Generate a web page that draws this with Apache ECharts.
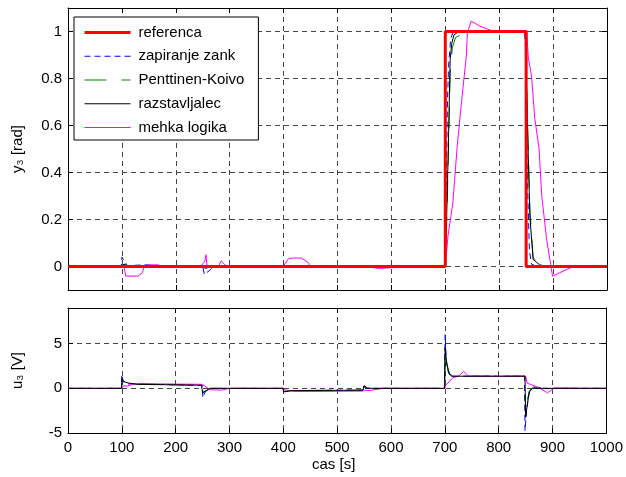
<!DOCTYPE html>
<html>
<head>
<meta charset="utf-8">
<script src="https://cdn.jsdelivr.net/npm/echarts@6/dist/echarts.min.js"></script>
<style>
  html, body { margin: 0; padding: 0; background: #fff; }
  #main { width: 626px; height: 477px; }
</style>
</head>
<body>
<div id="main"></div>
<script>
// podatki odčitani s slike
var xTicks = [0, 100, 200, 300, 400, 500, 600, 700, 800, 900, 1000];

// zgornji graf: y3 [rad]
var refT = [0, 700, 700, 850, 850, 1000];
var refY = [0, 0, 1, 1, 0, 0];

var zzT = [0, 99, 100, 105, 110, 145, 152, 160, 250, 253, 263, 270, 400, 405, 410, 700, 701.5, 704, 706, 710, 715, 848, 849.5, 852, 856, 860, 870, 1000];
var zzY = [0, 0, 0.04, 0.022, 0.004, 0.007, 0.006, 0, 0, -0.034, -0.016, 0, 0, 0.004, 0, 0, 0.3, 0.7, 0.85, 0.97, 1.0, 1.0, 0.8, 0.4, 0.07, 0.01, 0, 0];

var pkT = [0, 100, 104, 112, 250, 255, 265, 700, 703, 706, 709, 713, 719, 733, 760, 848, 850, 853, 857, 863, 875, 890, 920, 1000];
var pkY = [0, 0, 0.01, 0, 0, -0.008, 0, 0, 0.22, 0.5, 0.82, 0.93, 0.975, 0.99, 1.0, 1.0, 0.87, 0.58, 0.24, 0.035, 0.015, 0.005, 0, 0];

var rzT = [0, 100, 104, 112, 250, 255, 265, 700, 703, 706, 709, 712, 716, 725, 848, 850, 853, 857, 863, 875, 890, 1000];
var rzY = [0, 0, 0.01, 0, 0, -0.008, 0, 0, 0.25, 0.55, 0.88, 0.95, 0.985, 1.0, 1.0, 0.85, 0.55, 0.21, 0.03, 0.007, 0, 0];

var mlT = [0, 104, 107, 130, 138, 141, 152, 167, 175, 246, 254, 256, 258, 280, 284, 291, 297, 399, 409, 418, 433, 446, 449, 555, 575, 597, 610, 700, 705, 714, 722, 731, 739, 741, 748, 764, 783, 795, 851, 854, 860, 866, 874, 879, 888, 894, 899, 937, 1000];
var mlY = [0, 0, -0.041, -0.041, -0.027, 0, 0.007, 0.007, 0, 0, 0.023, 0.05, 0.004, 0.003, 0.024, 0.008, 0, 0, 0.033, 0.036, 0.036, 0.016, 0, 0, -0.008, -0.006, 0, 0, 0.13, 0.27, 0.51, 0.72, 0.895, 0.995, 1.044, 1.023, 1.006, 1.0, 1.0, 0.89, 0.81, 0.63, 0.5, 0.3, 0.115, 0.03, -0.041, 0, 0];

// spodnji graf: u3 [V]
var uzzT = [0, 99.5, 100, 103, 110, 249.5, 250.5, 254, 260, 270, 399.5, 400.5, 410, 548, 549, 555, 699.5, 700.5, 703, 707, 711, 848, 849, 852, 857, 865, 880, 1000];
var uzzY = [0, 0, 1.55, 0.7, 0.5, 0.35, -1.05, -0.5, -0.1, 0, 0, -0.5, -0.25, -0.2, 0.2, 0, 0, 6.0, 3.0, 1.7, 1.36, 1.36, -4.75, -2.4, -0.3, 0.05, 0, 0];

var upkT = [0, 99.5, 100.5, 106, 130, 249.5, 251, 256, 264, 399.5, 401, 415, 548, 550, 557, 566, 699.5, 700.5, 704, 709, 715, 849, 850, 853, 858, 865, 880, 895, 1000];
var upkY = [0, 0, 0.9, 0.65, 0.45, 0.35, -0.45, -0.25, 0, 0, -0.35, -0.25, -0.2, 0.25, 0.05, 0, 0, 4.3, 2.7, 1.6, 1.36, 1.36, -3.0, -1.3, -0.2, 0.15, 0.1, 0, 0];

var urzT = [0, 99.5, 100, 104, 112, 130, 248, 250, 256, 264, 400, 401, 415, 548, 550, 556, 565, 699.5, 700.5, 703, 707, 712, 849, 850, 854, 857, 863, 1000];
var urzY = [0, 0, 1.07, 0.75, 0.6, 0.45, 0.35, -0.5, -0.3, 0, 0, -0.4, -0.25, -0.2, 0.3, 0.05, 0, 0, 4.56, 2.9, 1.8, 1.36, 1.36, -3.23, -1.5, -0.4, 0, 0];

var umlT = [0, 100, 103, 110, 120, 135, 170, 250, 258, 265, 285, 300, 400, 405, 420, 450, 548, 552, 560, 585, 700, 702, 706, 715, 725, 735, 744, 850, 853, 870, 891, 903, 1000];
var umlY = [0, 0, 0.3, 0.25, 0.45, 0.55, 0.5, 0.45, 0.1, -0.15, -0.2, 0, 0, -0.2, -0.35, -0.35, -0.3, -0.2, -0.25, 0, 0, 0.4, 0.6, 1.2, 1.35, 1.9, 1.36, 1.36, 0.58, 0.2, -0.5, 0.03, 0];

function zip(t, y) {
  return t.map(function (v, i) { return [v, y[i]]; });
}

var myChart = echarts.init(document.getElementById('main'));

var fontFam = '"Liberation Sans", Arial, sans-serif';
var gridLine = { show: true, lineStyle: { color: '#444', width: 1, type: [5, 4] } };
var blackLine = { show: true, onZero: false, lineStyle: { color: '#000', width: 1 } };
var tickIn = { show: true, inside: true, length: 5, lineStyle: { color: '#000' } };
var lbl = { color: '#000', fontSize: 15, fontFamily: fontFam };

function xAx(grid, pos, labels) {
  return {
    type: 'value', gridIndex: grid, position: pos, min: 0, max: 1000, interval: 100,
    axisLine: blackLine, axisTick: tickIn,
    splitLine: pos === 'bottom' ? gridLine : { show: false },
    axisLabel: labels ? Object.assign({ margin: 7, formatter: function (v) { return String(v); } }, lbl) : { show: false }
  };
}

var option = {
  animation: false,
  backgroundColor: '#fff',
  grid: [
    { left: 68, top: 8, width: 539, height: 282 },
    { left: 68, top: 308, width: 539, height: 125 }
  ],
  legend: {
    left: 74, top: 17,
    orient: 'vertical',
    backgroundColor: '#fff',
    borderColor: '#000',
    borderWidth: 1,
    borderRadius: 0,
    padding: [8, 14, 5, 9],
    itemWidth: 46,
    itemHeight: 14,
    itemGap: 8.75,
    itemStyle: { opacity: 0 },
    textStyle: { color: '#000', fontSize: 15, fontFamily: fontFam, padding: [0, 0, 0, 3] },
    data: [
      { name: 'referenca', lineStyle: { width: 3 } },
      { name: 'zapiranje zank', lineStyle: { width: 1 } },
      { name: 'Penttinen-Koivo', lineStyle: { width: 1 } },
      { name: 'razstavljalec', lineStyle: { width: 1 } },
      { name: 'mehka logika', lineStyle: { width: 1 } }
    ]
  },
  xAxis: [
    xAx(0, 'bottom', false),
    xAx(1, 'bottom', true),
    xAx(0, 'top', false),
    xAx(1, 'top', false)
  ],
  yAxis: [
    {
      type: 'value', gridIndex: 0, min: -0.1, max: 1.1, splitNumber: 6,
      axisLine: blackLine, axisTick: tickIn, splitLine: gridLine,
      axisLabel: Object.assign({ margin: 6, showMinLabel: false, showMaxLabel: false }, lbl),
      name: 'y\u2083 [rad]', nameLocation: 'middle', nameGap: 43,
      nameTextStyle: { color: '#000', fontSize: 15, fontFamily: fontFam }
    },
    {
      type: 'value', gridIndex: 1, min: -5, max: 9, interval: 5,
      axisLine: blackLine, axisTick: tickIn, splitLine: gridLine,
      axisLabel: Object.assign({ margin: 6, showMaxLabel: false }, lbl),
      name: 'u\u2083 [V]', nameLocation: 'middle', nameGap: 43,
      nameTextStyle: { color: '#000', fontSize: 15, fontFamily: fontFam }
    },
    {
      type: 'value', gridIndex: 0, position: 'right', min: -0.1, max: 1.1, splitNumber: 6,
      axisLine: blackLine, axisTick: tickIn, splitLine: { show: false }, axisLabel: { show: false }
    },
    {
      type: 'value', gridIndex: 1, position: 'right', min: -5, max: 9, interval: 5,
      axisLine: blackLine, axisTick: tickIn, splitLine: { show: false }, axisLabel: { show: false }
    }
  ],
  graphic: [{
    type: 'text', left: 312, top: 457,
    style: { text: 'cas [s]', fill: '#000', font: '15px ' + fontFam }
  }],
  series: [
    { name: 'zapiranje zank', type: 'line', xAxisIndex: 0, yAxisIndex: 0, symbol: 'none', z: 3,
      color: '#0000ff', lineStyle: { width: 1, type: [6, 4] }, data: zip(zzT, zzY) },
    { name: 'Penttinen-Koivo', type: 'line', xAxisIndex: 0, yAxisIndex: 0, symbol: 'none', z: 3,
      color: '#008000', lineStyle: { width: 1, type: [22, 15] }, data: zip(pkT, pkY) },
    { name: 'razstavljalec', type: 'line', xAxisIndex: 0, yAxisIndex: 0, symbol: 'none', z: 3,
      color: '#000000', lineStyle: { width: 1 }, data: zip(rzT, rzY) },
    { name: 'mehka logika', type: 'line', xAxisIndex: 0, yAxisIndex: 0, symbol: 'none', z: 3,
      color: '#ff00ff', lineStyle: { width: 1 }, data: zip(mlT, mlY) },
    { name: 'referenca', type: 'line', xAxisIndex: 0, yAxisIndex: 0, symbol: 'none', z: 4,
      color: '#ff0000', lineStyle: { width: 3 }, data: zip(refT, refY) },

    { name: 'zapiranje zank', type: 'line', xAxisIndex: 1, yAxisIndex: 1, symbol: 'none', z: 3,
      color: '#0000ff', lineStyle: { width: 1, type: [6, 4] }, data: zip(uzzT, uzzY) },
    { name: 'Penttinen-Koivo', type: 'line', xAxisIndex: 1, yAxisIndex: 1, symbol: 'none', z: 3,
      color: '#008000', lineStyle: { width: 1, type: [22, 15] }, data: zip(upkT, upkY) },
    { name: 'mehka logika', type: 'line', xAxisIndex: 1, yAxisIndex: 1, symbol: 'none', z: 3,
      color: '#ff00ff', lineStyle: { width: 1 }, data: zip(umlT, umlY) },
    { name: 'razstavljalec', type: 'line', xAxisIndex: 1, yAxisIndex: 1, symbol: 'none', z: 4,
      color: '#000000', lineStyle: { width: 1 }, data: zip(urzT, urzY) }
  ]
};

myChart.setOption(option);
</script>
</body>
</html>
